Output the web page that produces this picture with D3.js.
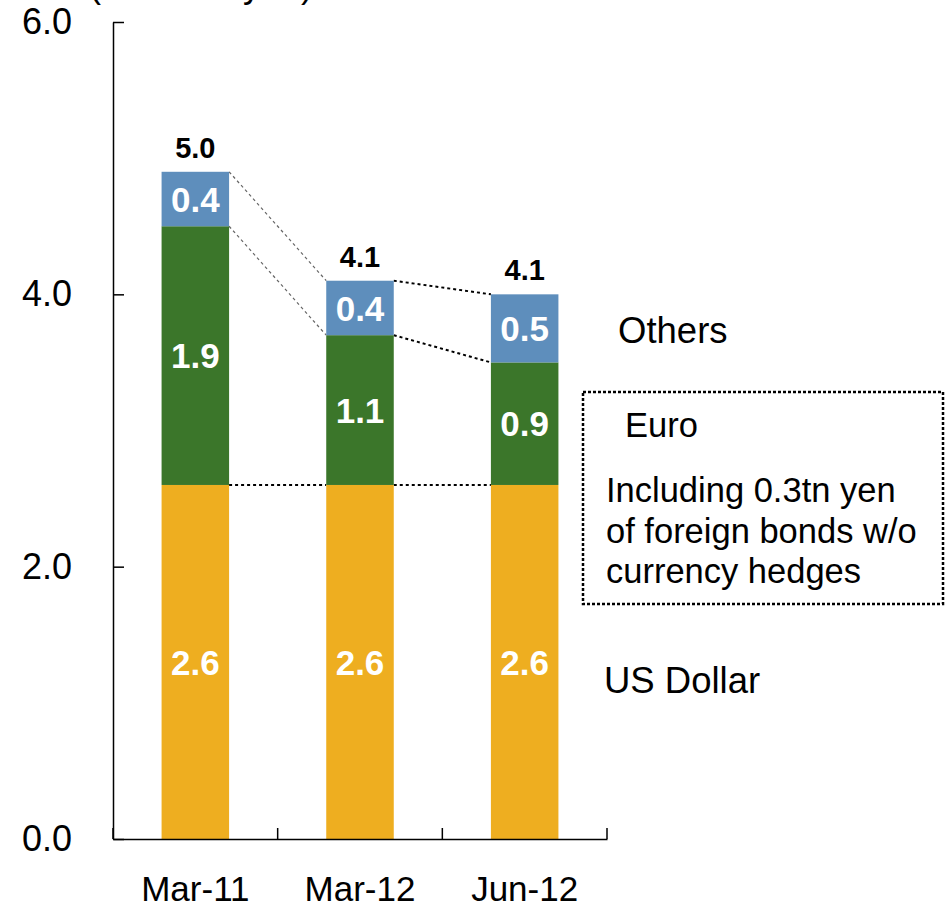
<!DOCTYPE html>
<html>
  <head>
    <meta charset="utf-8">
    <style>
body {
  margin: 0;
  font-family: Arial, 'Liberation Sans', sans-serif;
}
.axis .domain, .axis line {
  stroke: #000;
  stroke-width: 1.5;
}
</style>
    <title></title>
  </head>
  <body>
    <svg width="946" height="909"></svg>
    <script src="https://d3js.org/d3.v7.min.js"></script>
    <script>
// data
var categories = ["Mar-11", "Mar-12", "Jun-12"];
var usDollar = [2.6, 2.6, 2.6];
var euro = [1.9, 1.1, 0.9];
var others = [0.4, 0.4, 0.5];
var totalLabels = ["5.0", "4.1", "4.1"];
var yTicks = [0, 2, 4, 6];

var keys = ["usDollar", "euro", "others"];
var colors = ["#eeae20", "#3b762a", "#5e8ebc"];

var data = categories.map(function(c, i) {
  return {cat: c, usDollar: usDollar[i], euro: euro[i], others: others[i]};
});

var svg = d3.select("svg"),
    margin = {top: 22, left: 113, right: 339, bottom: 70},
    width = +svg.attr("width") - margin.left - margin.right,
    height = +svg.attr("height") - margin.top - margin.bottom,
    g = svg.append("g").attr("transform", "translate(" + margin.left + "," + margin.top + ")");

var x = d3.scaleBand()
    .domain(categories)
    .range([0, width])
    .paddingInner(0.59)
    .paddingOuter(0.295);

var y = d3.scaleLinear()
    .domain([0, 6])
    .range([height, 0]);

var series = d3.stack().keys(keys)(data);

// unit label (mostly above the top edge, as in the source)
svg.append("text")
    .attr("x", 89)
    .attr("y", -3)
    .attr("font-size", 36)
    .text("(in trillion yen)");

// connector lines between neighbouring bars
series.forEach(function(s, k) {
  for (var i = 0; i < s.length - 1; i++) {
    var diag = k > 0;
    g.append("line")
        .attr("x1", x(categories[i]) + x.bandwidth())
        .attr("y1", y(s[i][1]))
        .attr("x2", x(categories[i + 1]))
        .attr("y2", y(s[i + 1][1]))
        .attr("stroke", diag && i == 0 ? "#666" : "#000")
        .attr("stroke-width", diag && i == 0 ? 1.2 : 2)
        .attr("stroke-dasharray", "3,3");
  }
});

// bars
var layer = g.selectAll(".layer")
  .data(series)
  .enter().append("g")
    .attr("class", "layer")
    .attr("fill", function(d, i) { return colors[i]; });

layer.selectAll("rect")
  .data(function(d) { return d; })
  .enter().append("rect")
    .attr("x", function(d) { return x(d.data.cat); })
    .attr("y", function(d) { return y(d[1]); })
    .attr("height", function(d) { return y(d[0]) - y(d[1]); })
    .attr("width", x.bandwidth());

layer.selectAll("text")
  .data(function(d) { return d.map(function(v) { v.key = d.key; return v; }); })
  .enter().append("text")
    .attr("x", function(d) { return x(d.data.cat) + x.bandwidth() / 2; })
    .attr("y", function(d) { return (y(d[0]) + y(d[1])) / 2; })
    .attr("dy", "0.36em")
    .attr("text-anchor", "middle")
    .attr("fill", "#fff")
    .attr("font-size", 35)
    .attr("font-weight", "bold")
    .text(function(d) { return d3.format(".1f")(d.data[d.key]); });

// totals
g.selectAll(".total")
  .data(series[series.length - 1])
  .enter().append("text")
    .attr("class", "total")
    .attr("x", function(d) { return x(d.data.cat) + x.bandwidth() / 2; })
    .attr("y", function(d) { return y(d[1]) - 14; })
    .attr("text-anchor", "middle")
    .attr("font-size", 29)
    .attr("font-weight", "bold")
    .text(function(d, i) { return totalLabels[i]; });

// y axis
var yAxis = g.append("g")
    .attr("class", "axis")
    .call(d3.axisLeft(y).tickValues(yTicks).tickFormat(d3.format(".1f"))
      .tickSizeInner(-11).tickSizeOuter(0).tickPadding(41));
yAxis.selectAll("text")
    .attr("font-size", 36)
    .attr("font-family", "Arial, 'Liberation Sans', sans-serif")
    .attr("fill", "#000");

// x axis
var xAxis = g.append("g")
    .attr("class", "axis")
    .attr("transform", "translate(0," + height + ")")
    .call(d3.axisBottom(x).tickSize(0).tickPadding(0));
xAxis.selectAll("text")
    .attr("y", 62)
    .attr("dy", 0)
    .attr("font-size", 35)
    .attr("font-family", "Arial, 'Liberation Sans', sans-serif")
    .attr("fill", "#000");

xAxis.selectAll(".bound")
  .data(d3.range(categories.length + 1))
  .enter().append("line")
    .attr("class", "bound")
    .attr("x1", function(i) { return i * x.step(); })
    .attr("x2", function(i) { return i * x.step(); })
    .attr("y1", 0)
    .attr("y2", -11);

// annotations on the right
var notes = svg.append("g").attr("font-size", 34.5).attr("fill", "#000");
notes.append("text").attr("x", 618).attr("y", 343).attr("font-size", 36.5).text("Others");
notes.append("text").attr("x", 625).attr("y", 437).text("Euro");
notes.append("text").attr("x", 606).attr("y", 502).text("Including 0.3tn yen");
notes.append("text").attr("x", 606).attr("y", 543).text("of foreign bonds w/o");
notes.append("text").attr("x", 606).attr("y", 583).text("currency hedges");
notes.append("text").attr("x", 604).attr("y", 693).attr("font-size", 36.5).text("US Dollar");

svg.append("rect")
    .attr("x", 583)
    .attr("y", 392)
    .attr("width", 360)
    .attr("height", 212)
    .attr("fill", "none")
    .attr("stroke", "#000")
    .attr("stroke-width", 2.5)
    .attr("stroke-dasharray", "3,2");
</script>
  </body>
</html>
